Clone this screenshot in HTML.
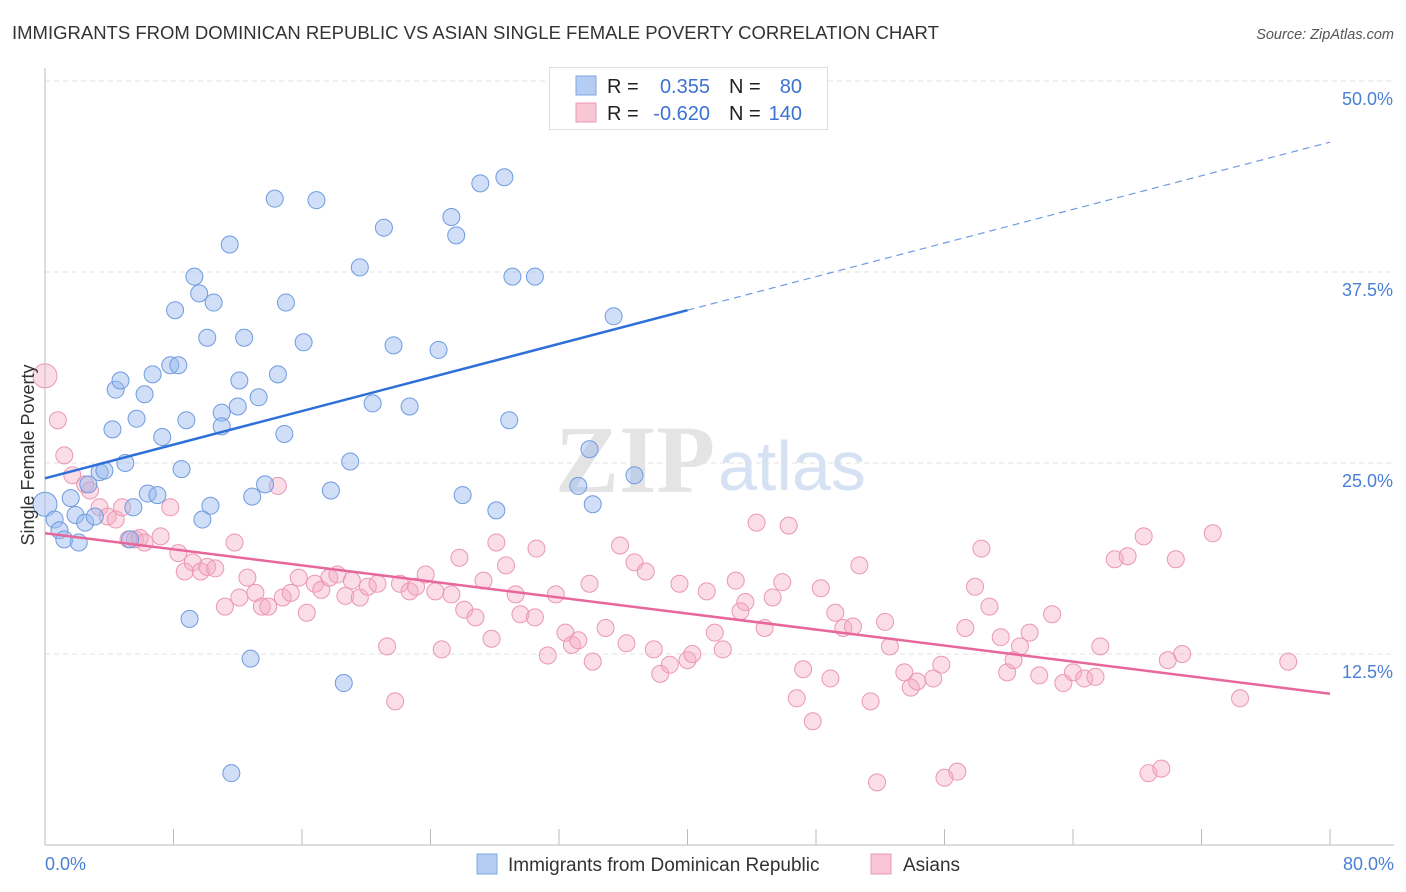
<!DOCTYPE html>
<html><head><meta charset="utf-8"><style>
body{margin:0;background:#fff;font-family:"Liberation Sans",sans-serif;}
#wrap{position:relative;width:1406px;height:892px;overflow:hidden;}
</style></head><body>
<div id="wrap">
<svg id="svg" width="1406" height="892" xmlns="http://www.w3.org/2000/svg">
<text x="12" y="39" font-size="18.5" fill="#333">IMMIGRANTS FROM DOMINICAN REPUBLIC VS ASIAN SINGLE FEMALE POVERTY CORRELATION CHART</text>
<text x="1394" y="39" font-size="14.5" fill="#555" font-style="italic" text-anchor="end">Source: ZipAtlas.com</text>
<text x="555" y="492" font-size="96" fill="#e4e4e4" font-family="Liberation Serif" font-weight="bold">ZIP</text>
<text x="718" y="490" font-size="70" fill="#d6e2f3">atlas</text>
<g id="grid"></g>
<g id="axes"></g>
<g id="pts"></g>
<g id="lines"></g>
<text transform="translate(34,455) rotate(-90)" font-size="18" fill="#333" text-anchor="middle">Single Female Poverty</text>
<text x="45" y="870" font-size="18" fill="#4a7fd6">0.0%</text>
<text x="1394" y="870" font-size="18" fill="#4a7fd6" text-anchor="end">80.0%</text>
<g>
<rect x="549.5" y="67.5" width="278" height="62" fill="#fff" stroke="#ddd"/>
<rect x="576" y="76" width="20" height="19" fill="#b5cdf2" stroke="#7fa6e3"/>
<rect x="576" y="103" width="20" height="19" fill="#f8c6d5" stroke="#eb9ab3"/>
<text x="607" y="93" font-size="20" fill="#222">R =</text>
<text x="710" y="93" font-size="20" fill="#3b73d1" text-anchor="end">0.355</text>
<text x="729" y="93" font-size="20" fill="#222">N =</text>
<text x="802" y="93" font-size="20" fill="#3b73d1" text-anchor="end">80</text>
<text x="607" y="120" font-size="20" fill="#222">R =</text>
<text x="710" y="120" font-size="20" fill="#3b73d1" text-anchor="end">-0.620</text>
<text x="729" y="120" font-size="20" fill="#222">N =</text>
<text x="802" y="120" font-size="20" fill="#3b73d1" text-anchor="end">140</text>
</g>
<g>
<rect x="477" y="854" width="20" height="20" fill="#b5cdf2" stroke="#7fa6e3"/>
<text x="508" y="871" font-size="19" fill="#333">Immigrants from Dominican Republic</text>
<rect x="871" y="854" width="20" height="20" fill="#f8c6d5" stroke="#eb9ab3"/>
<text x="903" y="871" font-size="19" fill="#333">Asians</text>
</g>
</svg>
</div>
<script>
const yTicks=[12.5,25,37.5,50];
const yTickLabels=["12.5%","25.0%","37.5%","50.0%"];
const xTicks=[0,8,16,24,32,40,48,56,64,72,80];
const blueX=[0,0.6,0.9,1.2,1.6,1.9,2.1,2.5,2.7,3.1,3.4,3.7,4.2,4.4,4.7,5.0,5.3,5.5,5.7,6.2,6.4,6.7,7.0,7.3,7.8,8.1,8.3,8.5,8.8,9.0,9.3,9.6,9.8,10.1,10.3,10.5,11.0,11.0,11.5,11.6,12.0,12.1,12.4,12.8,12.9,13.3,13.7,14.3,14.5,14.9,15.0,16.1,16.9,17.8,18.6,19.0,19.6,20.4,21.1,21.7,22.7,24.5,25.3,25.6,26.0,27.1,28.1,28.6,28.9,29.1,30.5,33.2,33.9,34.1,35.4,36.7];
const blueY=[22.3,21.3,20.6,20.0,22.7,21.6,19.8,21.1,23.6,21.5,24.4,24.5,27.2,29.8,30.4,25.0,20.0,22.1,27.9,29.5,23.0,30.8,22.9,26.7,31.4,35.0,31.4,24.6,27.8,14.8,37.2,36.1,21.3,33.2,22.2,35.5,28.3,27.4,39.3,4.7,28.7,30.4,33.2,12.2,22.8,29.3,23.6,42.3,30.8,26.9,35.5,32.9,42.2,23.2,10.6,25.1,37.8,28.9,40.4,32.7,28.7,32.4,41.1,39.9,22.9,43.3,21.9,43.7,27.8,37.2,37.2,23.5,25.9,22.3,34.6,24.2];
const pinkX=[0,0.8,1.2,1.7,2.5,2.8,3.4,3.9,4.4,4.8,5.2,5.6,5.9,6.2,7.2,7.8,8.3,8.7,9.2,9.7,10.1,10.6,11.2,11.8,12.1,12.6,13.1,13.5,13.9,14.5,14.8,15.3,15.8,16.3,16.8,17.2,17.7,18.2,18.7,19.1,19.6,20.1,20.7,21.3,21.8,22.1,22.7,23.1,23.7,24.3,24.7,25.3,25.8,26.1,26.8,27.3,27.8,28.1,28.7,29.3,29.6,30.5,30.6,31.3,31.8,32.4,32.8,33.2,33.9,34.1,34.9,35.8,36.2,36.7,37.4,37.9,38.3,38.9,39.5,40.0,40.3,41.2,41.7,42.2,43.0,43.3,43.6,44.3,44.8,45.3,45.9,46.3,46.8,47.2,47.8,48.3,48.9,49.2,49.7,50.3,50.7,51.4,51.8,52.3,52.6,53.5,53.9,54.3,55.3,55.8,56.0,56.8,57.3,57.9,58.3,58.8,59.5,59.9,60.3,60.7,61.3,61.9,62.7,63.4,64.0,64.7,65.4,65.7,66.6,67.4,68.4,68.7,69.5,69.9,70.4,70.8,72.7,74.4,77.4];
const pinkY=[30.7,27.8,25.5,24.2,23.6,23.2,22.1,21.5,21.3,22.1,20.0,20.0,20.1,19.8,20.2,22.1,19.1,17.9,18.5,17.9,18.2,18.1,15.6,19.8,16.2,17.5,16.5,15.6,15.6,23.5,16.2,16.5,17.5,15.2,17.1,16.7,17.5,17.7,16.3,17.3,16.2,16.9,17.1,13.0,9.4,17.1,16.6,16.9,17.7,16.6,12.8,16.4,18.8,15.4,14.9,17.3,13.5,19.8,18.3,16.4,15.1,14.9,19.4,12.4,16.4,13.9,13.1,13.4,17.1,12.0,14.2,19.6,13.2,18.5,17.9,12.8,11.2,11.8,17.1,12.1,12.5,16.6,13.9,12.8,17.3,15.3,15.9,21.1,14.2,16.2,17.2,20.9,9.6,11.5,8.1,16.8,10.9,15.2,14.2,14.3,18.3,9.4,4.1,14.6,13.0,11.3,10.3,10.7,10.9,11.8,4.4,4.8,14.2,16.9,19.4,15.6,13.6,11.3,12.1,13.0,13.9,11.1,15.1,10.6,11.3,10.9,11.0,13.0,18.7,18.9,20.2,4.7,5.0,12.1,18.7,12.5,20.4,9.6,12.0];
const blueTrend=[24.0,46.0];
const pinkTrend=[20.4,9.9];
const X0=45,X1=1330,Y0=845,Y50=81;
function sx(v){return X0+(X1-X0)*v/80;}
function sy(v){return Y0-(Y0-Y50)*v/50;}
const NS="http://www.w3.org/2000/svg";
function mk(tag,attrs,parent){const e=document.createElementNS(NS,tag);for(const k in attrs)e.setAttribute(k,attrs[k]);parent.appendChild(e);return e;}
const grid=document.getElementById('grid'),axes=document.getElementById('axes'),pts=document.getElementById('pts'),lines=document.getElementById('lines');
yTicks.forEach((t,i)=>{
 const g=mk('line',{x1:45,x2:1394,y1:sy(t),y2:sy(t),stroke:'#e2e2e2','stroke-dasharray':'5,4'},grid);
 
 
 const tx=mk('text',{x:1393,y:sy(t)+24,'font-size':18,fill:'#4a7fd6','text-anchor':'end'},grid);
 tx.textContent=yTickLabels[i];
 
 
});
const ya=mk('line',{x1:45,x2:45,y1:68,y2:845,stroke:'#bbb'},axes);


const xa=mk('line',{x1:45,x2:1394,y1:845,y2:845,stroke:'#bbb'},axes);


xTicks.forEach(t=>{
 const l=mk('line',{x1:sx(t),x2:sx(t),y1:829,y2:845,stroke:'#bbb'},axes);
 
 
});
function drawPts(xs,ys,fill,stroke,name){
 xs.forEach((x,i)=>{
  const r=(x===0)?12:8.5;
  const c=mk('circle',{cx:sx(x),cy:sy(ys[i]),r:r,fill:fill,stroke:stroke,'stroke-width':1},pts);
  
  
 });
}
drawPts(pinkX,pinkY,'rgba(244,170,195,0.4)','#eb97b2','point-asians');
drawPts(blueX,blueY,'rgba(150,185,238,0.45)','#6f9be0','point-dominican');
const bMid=blueTrend[0]+(blueTrend[1]-blueTrend[0])*0.5;
const bl=mk('line',{x1:sx(0),y1:sy(blueTrend[0]),x2:sx(40),y2:sy(bMid),stroke:'#2f6fd8','stroke-width':2.5},lines);


const bd=mk('line',{x1:sx(40),y1:sy(bMid),x2:sx(80),y2:sy(blueTrend[1]),stroke:'#6f9be0','stroke-width':1.2,'stroke-dasharray':'7,5'},lines);


const pl=mk('line',{x1:sx(0),y1:sy(pinkTrend[0]),x2:sx(80),y2:sy(pinkTrend[1]),stroke:'#e8679a','stroke-width':2.5},lines);


</script>
</body></html>
